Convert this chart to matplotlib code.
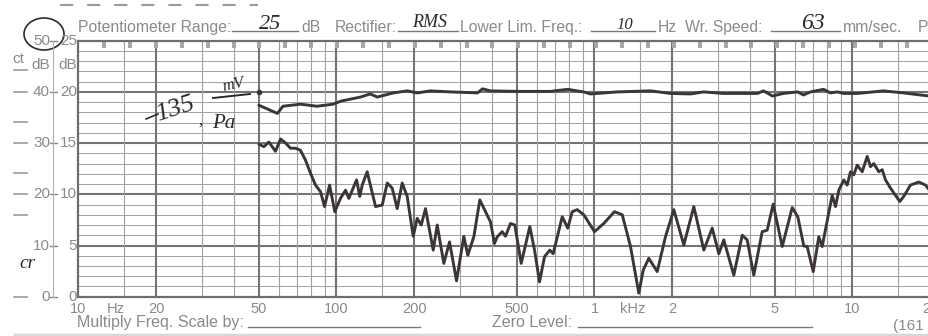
import numpy as np
import matplotlib
matplotlib.use("Agg")
import matplotlib.pyplot as plt
from matplotlib.patches import Ellipse, Rectangle
from matplotlib.lines import Line2D
import matplotlib.transforms as mtransforms

# ---------------- data ----------------
upper_freq = [50, 59, 62, 72.5, 84, 97, 104, 124, 135, 144, 166, 188, 206, 231, 277,
              352, 368, 395, 503, 675, 786, 907, 965, 1228, 1649, 1971, 2356, 2646,
              3162, 4283, 4519, 4896, 5402, 6120, 6458, 6873, 7722, 8215, 8748, 9228,
              10457, 13191, 15764, 18345, 19880]
upper_db = [18.7, 17.9, 18.6, 18.8, 18.6, 18.8, 19.1, 19.5, 19.8, 19.5, 19.9, 20.1, 19.9,
            20.1, 20.0, 19.9, 20.3, 20.1, 20.05, 20.05, 20.25, 20.0, 19.8, 20.0, 20.1,
            19.85, 19.8, 20.0, 19.85, 19.85, 20.1, 19.6, 19.85, 20.0, 19.7, 20.0, 20.25,
            19.9, 20.0, 19.85, 19.85, 20.1, 19.9, 19.7, 19.6]

lower_freq = [50, 52.3, 54.7, 58.0, 60.7, 63.5, 66.3, 69.4, 72.5, 75.8, 79.3, 82.9, 86.7,
              89.9, 94.0, 98.5, 103.6, 108.4, 111.6, 119.6, 123.1, 125.8, 131.5, 141.7,
              150.4, 157.3, 164.4, 171.9, 179.7, 187.9, 198.3, 205.5, 213.0, 221.3, 237.1,
              245.7, 260.6, 274.2, 291.9, 311.5, 322.8, 340.6, 359.4, 378.1, 395.3, 409.6,
              419.7, 438.8, 451.9, 472.5, 491.0, 519.9, 561.4, 585.5, 612.2, 640.2, 670.9,
              691.6, 749.6, 787.9, 819.6, 857.0, 908.9, 1000, 1086, 1195, 1281, 1379, 1485,
              1545, 1624, 1750, 1884, 2030, 2219, 2426, 2653, 2859, 3033, 3171, 3467, 3737,
              3907, 4143, 4467, 4671, 4927, 5340, 5839, 6138, 6475, 6674, 7042, 7402, 7630,
              8342, 8593, 8851, 9254, 9537, 9822, 10116, 10428, 10904, 11402, 11744, 12093,
              12648, 13039, 13428, 14040, 14677, 15251, 15804, 16780, 18072, 19186, 19880]
lower_db = [14.9, 14.65, 15.1, 14.2, 15.4, 15.0, 14.5, 14.5, 14.3, 13.35, 12.05, 10.9, 10.25,
            8.8, 10.9, 8.3, 9.6, 10.4, 9.6, 11.4, 9.8, 10.9, 12.2, 8.8,
            8.95, 11.1, 10.6, 8.6, 11.1, 9.8, 5.9, 7.65, 7.0, 8.6, 4.55,
            7.0, 3.25, 5.35, 1.55, 5.9, 4.05, 5.85, 9.45, 8.3, 7.3, 5.2,
            5.85, 6.35, 5.9, 7.15, 7.0, 3.25, 6.85, 4.55, 1.45, 3.9, 4.55,
            4.2, 7.8, 6.7, 8.3, 8.5, 8.0, 6.35, 7.15, 8.3, 8.0, 4.9, 0.35,
            2.6, 3.75, 2.45, 5.85, 8.5, 5.05, 8.8, 4.55, 6.7, 4.2, 5.55, 2.1, 6.0,
            5.55, 2.1, 6.35, 6.5, 9.05, 4.9, 8.7, 7.8, 4.95, 4.9, 2.45, 5.85, 4.9,
            9.9, 8.8, 10.4, 11.4, 10.9, 12.2, 11.9, 12.85, 12.2, 13.7, 12.7, 13.0,
            12.2, 12.4, 11.4, 10.6, 9.9, 9.3, 9.8, 10.9, 11.2, 10.9, 10.4]

x_tick_freqs = [10, 13.9, 20, 50, 100, 200, 500, 1000, 1400, 2000, 5000, 10000, 19300]
x_tick_labels = ["10", "Hz", "20", "50", "100", "200", "500", "1", "kHz", "2", "5", "10", "2"]
right_scale = [0, 5, 10, 15, 20, 25]
left_scale = [0, 10, 20, 30, 40, 50]
edge_marks = [0, 8, 10, 12.1, 15, 17.1, 20, 22.1]

# ---------------- figure ----------------
W, H = 929, 336
fig = plt.figure(figsize=(W / 100, H / 100), dpi=100)
fig.patch.set_facecolor("white")

def fx(px):
    return px / W

def fy(py):
    return 1 - py / H

x0, x1 = 78.5, 929.0
ytop, ybot = 40.7, 296.7
ax = fig.add_axes([fx(x0), fy(ybot), fx(x1) - fx(x0), (ybot - ytop) / H])
ax.set_xscale("log")
ax.set_xlim(10, 10 ** (1 + (x1 - x0) / 258.0))
ax.set_ylim(0, 25)
ax.xaxis.set_major_locator(matplotlib.ticker.NullLocator())
ax.xaxis.set_minor_locator(matplotlib.ticker.NullLocator())
ax.set_yticks([])
ax.set_facecolor("white")
for s in ["left", "bottom", "top"]:
    ax.spines[s].set_color("#6e6e6e")
    ax.spines[s].set_linewidth(1.6)
ax.spines["right"].set_visible(False)

grid_thin = "#a0a0a0"
grid_thick = "#747474"
# horizontal grid
for d in range(1, 25):
    if d % 5 == 0:
        ax.axhline(d, color=grid_thick, lw=1.5, zorder=1)
    else:
        ax.axhline(d, color=grid_thin, lw=0.7, zorder=1)
# vertical grid
for dec in [10, 100, 1000, 10000]:
    for m in [1, 1.5, 2, 3, 4, 5, 6, 7, 8, 9]:
        f = dec * m
        if f <= 10 or f > 19700:
            continue
        if m in (1, 2, 5):
            ax.axvline(f, color=grid_thick, lw=1.5, zorder=1)
        else:
            ax.axvline(f, color=grid_thin, lw=0.8, zorder=1)

# little paper marks at the top
px = 104.0
while px < 929:
    ax.add_patch(Rectangle(((px - 2 - x0) / (x1 - x0), 1 - 7 / (ybot - ytop)),
                           4 / (x1 - x0), 6 / (ybot - ytop), transform=ax.transAxes,
                           facecolor="#a8a8a8", edgecolor="none", zorder=2))
    px += 25.9

# curves
curve_col = "#3d3535"
ax.plot(upper_freq, upper_db, color=curve_col, lw=2.1, zorder=5,
        solid_joinstyle="round", solid_capstyle="round")
ax.plot(lower_freq, lower_db, color=curve_col, lw=2.1, zorder=5,
        solid_joinstyle="round", solid_capstyle="round")
ax.plot([50], [20.0], marker="o", ms=3, color=curve_col, zorder=6)

# ---------------- text ----------------
gray = "#8a8a8a"
hand = "#2a2a2a"
pfont = dict(family="Liberation Sans", color=gray)
hfont = dict(family="Liberation Serif", style="italic", color=hand)

# x labels
btf = mtransforms.blended_transform_factory(ax.transData, fig.transFigure)
for f, lab in zip(x_tick_freqs, x_tick_labels):
    fig.text(f, fy(313), lab, transform=btf, ha="center", va="baseline", fontsize=10.5, **pfont)

# y labels
ltf = mtransforms.blended_transform_factory(fig.transFigure, ax.transData)
for r, l in zip(right_scale, left_scale):
    fig.text(fx(77), r, str(r), transform=ltf, ha="right", va="center", fontsize=11, **pfont)
    fig.text(fx(50), r, str(l), transform=ltf, ha="right", va="center", fontsize=11, **pfont)
    fig.add_artist(Line2D([fx(50), fx(57)], [r, r], transform=ltf, color=gray, lw=1.0))
fig.text(fx(77), 22.6, "dB", transform=ltf, ha="right", va="center", fontsize=11, **pfont)
fig.text(fx(50), 22.6, "dB", transform=ltf, ha="right", va="center", fontsize=11, **pfont)
fig.add_artist(Line2D([fx(53), fx(53)], [0, 25], transform=ltf, color="#b0b0b0", lw=0.8))
for r in edge_marks:
    fig.add_artist(Line2D([fx(14), fx(27)], [r, r], transform=ltf, color="#9a9a9a", lw=1.2))
fig.text(fx(12), fy(63), "ct", ha="left", va="baseline", fontsize=11, **pfont)

# header
hy = fy(32)
fig.text(fx(78), hy, "Potentiometer Range:", ha="left", va="baseline", fontsize=11.3, **pfont)
fig.text(fx(301), hy, "dB", ha="left", va="baseline", fontsize=11.3, **pfont)
fig.text(fx(335), hy, "Rectifier:", ha="left", va="baseline", fontsize=11.3, **pfont)
fig.text(fx(460), hy, "Lower Lim. Freq.:", ha="left", va="baseline", fontsize=11.3, **pfont)
fig.text(fx(658), hy, "Hz", ha="left", va="baseline", fontsize=11.3, **pfont)
fig.text(fx(685), hy, "Wr. Speed:", ha="left", va="baseline", fontsize=11.3, **pfont)
fig.text(fx(843), hy, "mm/sec.", ha="left", va="baseline", fontsize=11.3, **pfont)
fig.text(fx(918), hy, "P", ha="left", va="baseline", fontsize=11.3, **pfont)
for a, b in [(232, 298), (398, 458), (591, 655), (771, 840)]:
    fig.add_artist(Line2D([fx(a), fx(b)], [fy(31), fy(31)], color="#7a7a7a", lw=1.0))
fig.text(fx(270), fy(29), "25", ha="center", va="baseline", fontsize=16, **hfont)
fig.text(fx(430), fy(27), "RMS", ha="center", va="baseline", fontsize=13, **hfont)
fig.text(fx(625), fy(29), "10", ha="center", va="baseline", fontsize=12, **hfont)
fig.text(fx(813), fy(29), "63", ha="center", va="baseline", fontsize=17, **hfont)

# top dashed line
fig.add_artist(Line2D([fx(60), fx(258)], [fy(5), fy(5)], color="#9a9a9a", lw=1.5,
                      linestyle=(0, (6.3, 6.7))))

# bottom texts
fig.text(fx(77), fy(327), "Multiply Freq. Scale by:", ha="left", va="baseline", fontsize=11.5, **pfont)
fig.add_artist(Line2D([fx(248), fx(420)], [fy(327), fy(327)], color="#7a7a7a", lw=1.0))
fig.text(fx(492), fy(327), "Zero Level:", ha="left", va="baseline", fontsize=11.5, **pfont)
fig.add_artist(Line2D([fx(578), fx(812)], [fy(327), fy(327)], color="#7a7a7a", lw=1.0))
fig.text(fx(893), fy(330), "(161", ha="left", va="baseline", fontsize=11, **pfont)
fig.add_artist(Line2D([fx(15), fx(929)], [fy(334.5), fy(334.5)], color="#d8d8d8", lw=2.5))

# handwritten annotation
fig.text(fx(175), fy(109), "135", ha="center", va="center", fontsize=19, rotation=18, **hfont)
fig.add_artist(Line2D([fx(146), fx(158)], [fy(119), fy(114)], color=hand, lw=1.2))
fig.text(fx(201), fy(121), ",", ha="center", va="center", fontsize=12, **hfont)
fig.text(fx(233), fy(85), "mV", ha="center", va="center", fontsize=12, rotation=12, **hfont)
fig.add_artist(Line2D([fx(213), fx(250)], [fy(98), fy(94)], color=hand, lw=1.4))
fig.text(fx(224), fy(124), "Pa", ha="center", va="center", fontsize=15, **hfont)
fig.text(fx(28), fy(263), "cr", ha="center", va="center", fontsize=14, **hfont)
fig.add_artist(Ellipse((fx(44), fy(34)), fx(40), 32 / H, angle=0, fill=False,
                       edgecolor=hand, lw=1.2, transform=fig.transFigure))

fig.savefig("out.png", dpi=100, facecolor="white")
